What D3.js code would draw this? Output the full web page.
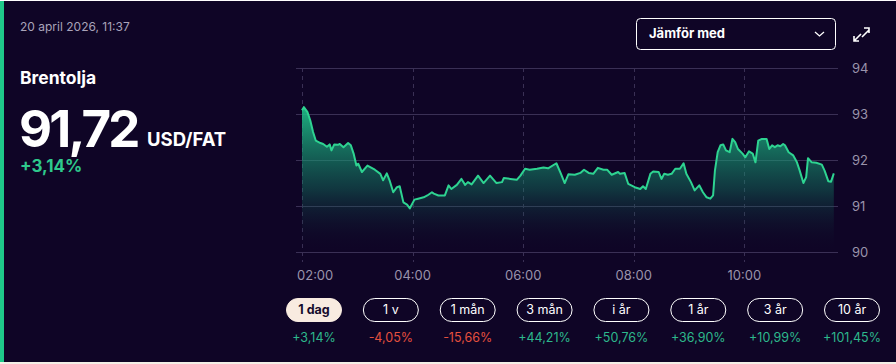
<!DOCTYPE html>
<html>
<head>
<meta charset="utf-8">
<script src="https://cdn.jsdelivr.net/npm/d3@7"></script>
<style>
  html, body { margin: 0; padding: 0; background: #f3efe6; }
  svg { display: block; font-family: Inter, "Noto Sans", sans-serif; }
</style>
</head>
<body>
<script>
// Brentolja, 1 dag, 20 april 2026
const times = ["02:00","02:02","02:06","02:09","02:12","02:15","02:20","02:23","02:27","02:30",
  "02:32","02:35","02:39","02:41","02:45","02:50","02:53","02:56","02:59","03:01",
  "03:05","03:11","03:19","03:25","03:28","03:32","03:35","03:39","03:43","03:46",
  "03:50","03:54","03:57","04:02","04:06","04:12","04:16","04:21","04:23","04:28",
  "04:35","04:39","04:42","04:48","04:53","04:57","05:00","05:04","05:11","05:17",
  "05:24","05:31","05:37","05:39","05:46","05:53","05:57","06:02","06:07","06:15",
  "06:22","06:27","06:36","06:41","06:45","06:49","06:56","07:02","07:06","07:11",
  "07:16","07:21","07:27","07:31","07:36","07:43","07:45","07:50","07:54","08:01",
  "08:07","08:10","08:13","08:18","08:21","08:27","08:30","08:33","08:37","08:41",
  "08:45","08:50","08:54","08:57","09:02","09:06","09:11","09:15","09:19","09:23",
  "09:26","09:28","09:31","09:34","09:37","09:40","09:44","09:47","09:50","09:53",
  "09:58","10:01","10:05","10:09","10:12","10:15","10:19","10:24","10:27","10:30",
  "10:33","10:36","10:39","10:42","10:44","10:48","10:53","10:57","11:00","11:04",
  "11:07","11:09","11:13","11:18","11:24","11:27","11:31","11:34","11:37"];

const prices = [93.09,93.16,93.05,92.87,92.62,92.43,92.38,92.36,92.30,92.35,
  92.22,92.35,92.34,92.36,92.29,92.38,92.33,92.15,91.89,91.93,
  91.75,91.89,91.80,91.71,91.57,91.72,91.57,91.31,91.42,91.44,
  91.09,91.04,90.96,91.15,91.17,91.20,91.24,91.31,91.28,91.24,
  91.24,91.46,91.38,91.47,91.60,91.47,91.53,91.48,91.67,91.51,
  91.67,91.51,91.53,91.62,91.60,91.58,91.67,91.82,91.80,91.82,
  91.85,91.83,91.94,91.71,91.51,91.70,91.69,91.73,91.80,91.73,
  91.71,91.84,91.80,91.80,91.69,91.75,91.71,91.73,91.49,91.42,
  91.38,91.44,91.38,91.71,91.76,91.75,91.60,91.71,91.69,91.71,
  91.82,91.82,91.94,91.71,91.53,91.35,91.46,91.31,91.20,91.17,
  91.24,91.78,92.18,92.33,92.35,92.22,92.18,92.47,92.40,92.25,
  92.15,92.07,92.20,92.15,91.96,92.43,92.47,92.47,92.25,92.33,
  92.29,92.33,92.31,92.36,92.33,92.18,92.11,91.96,91.78,91.51,
  91.64,92.05,91.96,91.95,91.91,91.78,91.55,91.54,91.72];

const yTicks = [90, 91, 92, 93, 94];
const xTickLabels = ["02:00", "04:00", "06:00", "08:00", "10:00"];
const periods = ["1 dag", "1 v", "1 mån", "3 mån", "i år", "1 år", "3 år", "10 år"];
const periodChanges = [3.14, -4.05, -15.66, 44.21, 50.76, 36.90, 10.99, 101.45];

const W = 896, H = 364;
const bg = "#0f0526";
const green = "#2ed391";
const parseTime = d3.timeParse("%Y-%m-%d %H:%M");
const t = s => parseTime("2026-04-20 " + s);
const fmtPct = d => (d > 0 ? "+" : "") + d.toFixed(2).replace(".", ",") + "%";

const data = times.map((s, i) => ({ time: t(s), value: prices[i] }));

const svg = d3.select("body").append("svg")
    .attr("width", W)
    .attr("height", H);

// bakgrund
svg.append("rect").attr("x", 0).attr("y", 0).attr("width", W).attr("height", H).attr("fill", "#f3efe6");
svg.append("rect").attr("x", 0).attr("y", 0).attr("width", W).attr("height", 1).attr("fill", "#ffffff");
svg.append("rect").attr("x", 0).attr("y", 1).attr("width", W).attr("height", 361).attr("fill", bg);
svg.append("rect").attr("x", 0).attr("y", 1).attr("width", 4).attr("height", 361).attr("fill", "#1fc98a");

// rubriker
svg.append("text").attr("x", 20).attr("y", 30.5)
    .attr("font-size", 12).attr("fill", "#a9a3b9")
    .text("20 april 2026, 11:37");
svg.append("text").attr("x", 20).attr("y", 84)
    .attr("font-size", 17.5).attr("font-weight", 700).attr("fill", "#ffffff")
    .text("Brentolja");
svg.append("text").attr("x", 19).attr("y", 147)
    .attr("font-size", 51).attr("font-weight", 700).attr("fill", "#ffffff")
    .attr("letter-spacing", -2.8)
    .text(prices[prices.length - 1].toFixed(2).replace(".", ","));
svg.append("text").attr("x", 147).attr("y", 146)
    .attr("font-size", 18.5).attr("font-weight", 700).attr("fill", "#ffffff")
    .text("USD/FAT");
svg.append("text").attr("x", 20).attr("y", 172)
    .attr("font-size", 17).attr("font-weight", 700).attr("fill", "#2ec98c")
    .text(fmtPct(periodChanges[0]));

// Jämför med
svg.append("rect").attr("x", 636.5).attr("y", 18.5).attr("width", 199).attr("height", 31).attr("rx", 4)
    .attr("fill", "none").attr("stroke", "#ffffff").attr("stroke-width", 1);
svg.append("text").attr("x", 649).attr("y", 38)
    .attr("font-size", 13).attr("font-weight", 700).attr("fill", "#ffffff")
    .text("Jämför med");
svg.append("path").attr("d", "M815,32 L819.5,36 L824,32")
    .attr("fill", "none").attr("stroke", "#ffffff").attr("stroke-width", 1.3);
// expand-ikon
svg.append("path")
    .attr("d", "M862,37 L869,30 M864,28 L869,28 L869,33 M861,34 L854,41 M854,36 L854,41 L859,41")
    .attr("fill", "none").attr("stroke", "#ffffff").attr("stroke-width", 1.6);

// skalor
const x = d3.scaleTime()
    .domain([t("02:00"), t("11:41")])
    .range([302, 837.5]);
const y = d3.scaleLinear()
    .domain([90, 94])
    .range([252.5, 68.5]);

const gridColor = "#3a3055";

svg.append("g").selectAll("line")
    .data(yTicks).enter().append("line")
    .attr("x1", 296).attr("x2", 838)
    .attr("y1", d => y(d)).attr("y2", d => y(d))
    .attr("stroke", gridColor).attr("stroke-width", 1);

svg.append("g").selectAll("line")
    .data(xTickLabels).enter().append("line")
    .attr("x1", d => Math.round(x(t(d))) + 0.5).attr("x2", d => Math.round(x(t(d))) + 0.5)
    .attr("y1", 68).attr("y2", 262)
    .attr("stroke", gridColor).attr("stroke-width", 1)
    .attr("stroke-dasharray", "4,4");

svg.append("g").selectAll("text")
    .data(yTicks).enter().append("text")
    .attr("x", 852).attr("y", d => y(d))
    .attr("dy", "0.35em")
    .attr("font-size", 13).attr("fill", "#9a93ab")
    .text(d => d);

svg.append("g").selectAll("text")
    .data(xTickLabels).enter().append("text")
    .attr("x", (d, i) => i === 0 ? 297 : x(t(d)))
    .attr("y", 275)
    .attr("dy", "0.35em")
    .attr("text-anchor", (d, i) => i === 0 ? "start" : "middle")
    .attr("font-size", 13).attr("fill", "#9a93ab")
    .text(d => d);

// yta + linje
const grad = svg.append("defs").append("linearGradient")
    .attr("id", "fill")
    .attr("gradientUnits", "userSpaceOnUse")
    .attr("x1", 0).attr("x2", 0)
    .attr("y1", y(93.1)).attr("y2", y(90));
grad.append("stop").attr("offset", "0%").attr("stop-color", "#1fbf88").attr("stop-opacity", 0.9);
grad.append("stop").attr("offset", "55%").attr("stop-color", "#138a6a").attr("stop-opacity", 0.38);
grad.append("stop").attr("offset", "100%").attr("stop-color", "#0f0526").attr("stop-opacity", 0);

const area = d3.area()
    .x(d => x(d.time))
    .y0(y(90))
    .y1(d => y(d.value));
const line = d3.line()
    .x(d => x(d.time))
    .y(d => y(d.value));

svg.append("path").datum(data)
    .attr("d", area)
    .attr("fill", "url(#fill)");
svg.append("path").datum(data)
    .attr("d", line)
    .attr("fill", "none")
    .attr("stroke", green)
    .attr("stroke-width", 2)
    .attr("stroke-linejoin", "round");

// periodknappar
const px = d3.scalePoint().domain(periods).range([314, 852]);

const pills = svg.append("g").selectAll("g")
    .data(periods).enter().append("g")
    .attr("transform", d => "translate(" + px(d) + ",310)");

pills.append("rect")
    .attr("x", -27.5).attr("y", -11.5).attr("width", 55).attr("height", 23).attr("rx", 11.5)
    .attr("fill", (d, i) => i === 0 ? "#f8ebe0" : "none")
    .attr("stroke", (d, i) => i === 0 ? "#f8ebe0" : "#ffffff")
    .attr("stroke-width", 1);

pills.append("text")
    .attr("y", 0).attr("dy", "0.35em")
    .attr("text-anchor", "middle")
    .attr("font-size", 12.5)
    .attr("font-weight", (d, i) => i === 0 ? 700 : 400)
    .attr("fill", (d, i) => i === 0 ? "#160b2c" : "#ffffff")
    .text(d => d);

svg.append("g").selectAll("text")
    .data(periodChanges).enter().append("text")
    .attr("x", (d, i) => px(periods[i]))
    .attr("y", 342)
    .attr("text-anchor", "middle")
    .attr("font-size", 12.5)
    .attr("fill", d => d >= 0 ? "#2db88c" : "#e5503e")
    .text(d => fmtPct(d));
</script>
</body>
</html>
